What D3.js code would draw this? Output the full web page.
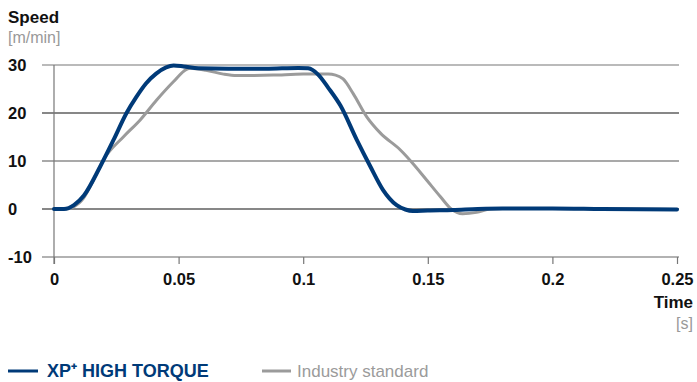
<!DOCTYPE html>
<html><head><meta charset="utf-8">
<script src="https://cdn.jsdelivr.net/npm/d3@7"></script>
<style>
html,body{margin:0;padding:0;background:#fff;}
svg{display:block;font-family:"Liberation Sans",Arial,Helvetica,sans-serif;}
</style></head>
<body>
<svg id="chart" width="697" height="382"></svg>
<script>
const xTicks = [0, 0.05, 0.1, 0.15, 0.2, 0.25];
const xTickLabels = ["0", "0.05", "0.1", "0.15", "0.2", "0.25"];
const yTicks = [30, 20, 10, 0, -10];
const yTickLabels = ["30", "20", "10", "0", "-10"];

const xpTime  = [0,0.004,0.008,0.012,0.0185,0.024,0.029,0.033,0.037,0.041,0.045,0.048,0.052,0.058,0.07,0.085,0.098,0.102,0.106,0.110,0.115,0.1215,0.127,0.132,0.1375,0.141,0.144,0.15,0.16,0.17,0.18,0.2,0.22,0.25];
const xpSpeed = [0,0,0.8,2.8,8.8,14.5,19.9,23.3,26.2,28.2,29.5,29.9,29.7,29.3,29.2,29.2,29.4,29.3,28,25.3,21.5,14.4,8.8,4,0.8,-0.1,-0.4,-0.3,-0.2,0,0.1,0.1,0,-0.1];

const stdTime  = [0,0.004,0.008,0.0118,0.0158,0.0198,0.0278,0.0345,0.0412,0.0479,0.0532,0.0546,0.061,0.068,0.0733,0.088,0.1,0.11,0.113,0.116,0.12,0.1255,0.131,0.139,0.144,0.1496,0.155,0.159,0.164,0.1696,0.175,0.18,0.2,0.25];
const stdSpeed = [0,0,0.5,2.2,6,10.2,15,18.5,22.7,26.5,29.1,29.3,28.9,28.1,27.8,27.9,28.1,28.1,27.9,27.1,24.1,19.2,15.8,12.3,9.5,6,2.6,0.2,-1,-0.7,0,0.1,0.1,-0.1];

const seriesNames = ["XP\u207A HIGH TORQUE", "Industry standard"];

const svg = d3.select("#chart");
const x = d3.scaleLinear().domain([0, 0.25]).range([54, 677]);
const y = d3.scaleLinear().domain([-10, 30]).range([257, 65]);

// gridlines
const gridColors = {"30":"#777","20":"#111","10":"#555","0":"#111","-10":"#666"};
svg.append("g").selectAll("line").data(yTicks).join("line")
  .attr("x1", 42).attr("x2", 679)
  .attr("y1", d => y(d)).attr("y2", d => y(d))
  .attr("stroke", d => gridColors[d]).attr("stroke-width", 1.2);

// y axis vertical line
svg.append("line").attr("x1", x(0)).attr("x2", x(0))
  .attr("y1", y(30)).attr("y2", y(-10) + 7)
  .attr("stroke", "#777").attr("stroke-width", 1.2);

// x axis ticks
const xAxis = d3.axisBottom(x).tickValues(xTicks)
  .tickFormat((d, i) => xTickLabels[i]).tickSize(7).tickPadding(9);
const gx = svg.append("g").attr("transform", `translate(0,${y(-10)})`).call(xAxis);
gx.select(".domain").remove();
gx.selectAll(".tick line").attr("stroke", "#777").attr("stroke-width", 1.2);
gx.selectAll(".tick text").attr("font-size", 16.5).attr("font-weight", "bold")
  .attr("fill", "#111").attr("font-family", "Liberation Sans, Arial, sans-serif");

// y tick labels (left aligned)
svg.append("g").selectAll("text").data(yTicks).join("text")
  .attr("x", 8).attr("y", d => y(d)).attr("dy", "0.36em")
  .attr("font-size", 16.5).attr("font-weight", "bold").attr("fill", "#111")
  .text((d, i) => yTickLabels[i]);

// lines
const line = d3.line().x(d => x(d[0])).y(d => y(d[1])).curve(d3.curveMonotoneX);
svg.append("path").datum(stdTime.map((t, i) => [t, stdSpeed[i]]))
  .attr("d", line).attr("fill", "none").attr("stroke", "#9b9b9b")
  .attr("stroke-width", 3).attr("stroke-linejoin", "round");
svg.append("path").datum(xpTime.map((t, i) => [t, xpSpeed[i]]))
  .attr("d", line).attr("fill", "none").attr("stroke", "#003a78")
  .attr("stroke-width", 4).attr("stroke-linejoin", "round").attr("stroke-linecap", "round");

// axis titles
svg.append("text").attr("x", 8).attr("y", 22.5).attr("font-size", 17)
  .attr("font-weight", "bold").attr("fill", "#111").text("Speed");
svg.append("text").attr("x", 8).attr("y", 42.5).attr("font-size", 16)
  .attr("fill", "#999").text("[m/min]");
svg.append("text").attr("x", 693).attr("y", 308).attr("font-size", 17)
  .attr("font-weight", "bold").attr("fill", "#111").attr("text-anchor", "end").text("Time");
svg.append("text").attr("x", 693).attr("y", 329).attr("font-size", 16)
  .attr("fill", "#999").attr("text-anchor", "end").text("[s]");

// legend
const leg = [
  {name: seriesNames[0], color: "#003a78", textColor: "#003a78", bold: true, x: 8, lw: 30, tx: 39},
  {name: seriesNames[1], color: "#9b9b9b", textColor: "#9b9b9b", bold: false, x: 262, lw: 29, tx: 35}
];
const lg = svg.append("g").selectAll("g").data(leg).join("g")
  .attr("transform", d => `translate(${d.x},371)`);
lg.append("line").attr("x1", 0).attr("x2", d => d.lw).attr("y1", 0).attr("y2", 0)
  .attr("stroke", d => d.color).attr("stroke-width", 3);
lg.append("text").attr("x", d => d.tx).attr("y", 6)
  .attr("font-size", d => d.bold ? 18 : 17)
  .attr("font-weight", d => d.bold ? "bold" : "normal")
  .attr("fill", d => d.textColor).text(d => d.name);
</script>
</body></html>
